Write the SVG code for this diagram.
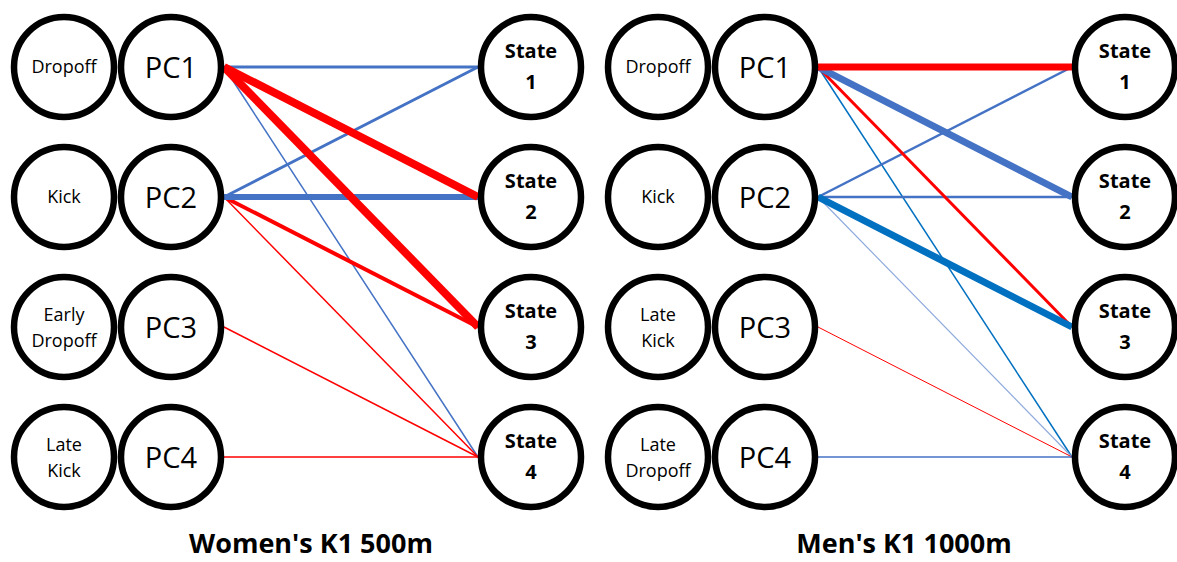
<svg xmlns="http://www.w3.org/2000/svg" width="1177" height="562" viewBox="0 0 1177 562">
<style>
.c{fill:#fff;stroke:#000;stroke-width:6.5}
.lbl{font-family:"Open Sans","Liberation Sans",sans-serif;font-size:18px;fill:#000;text-anchor:middle}
.pc{font-family:"Open Sans","Liberation Sans",sans-serif;font-size:29px;fill:#000;text-anchor:middle}
.st{font-family:"Open Sans","Liberation Sans",sans-serif;font-size:20px;font-weight:bold;fill:#000;text-anchor:middle}
.ttl{font-family:"Open Sans","Liberation Sans",sans-serif;font-size:27px;font-weight:bold;fill:#000;text-anchor:middle}
.r{stroke:#ff0000;fill:none}
.b{stroke:#4472c4;fill:none}
.d{stroke:#0070c0;fill:none}
.lb{stroke:#8faadc;fill:none}
</style>
<rect width="1177" height="562" fill="#fff"/>
<g id="connectors">
<!-- Women's -->
<line class="b" x1="224" y1="67" x2="478" y2="67" stroke-width="3"/>
<line class="b" x1="224" y1="67" x2="478" y2="457" stroke-width="1.5"/>
<line class="b" x1="224" y1="197" x2="478" y2="67" stroke-width="3"/>
<line class="r" x1="224" y1="197" x2="478" y2="327" stroke-width="4"/>
<line class="r" x1="224" y1="197" x2="478" y2="457" stroke-width="1.5"/>
<line class="r" x1="224" y1="327" x2="478" y2="457" stroke-width="1.5"/>
<line class="r" x1="224" y1="457" x2="478" y2="457" stroke-width="1.5"/>
<line class="b" x1="224" y1="197" x2="478" y2="197" stroke-width="6"/>
<line class="r" x1="224" y1="67" x2="478" y2="197" stroke-width="8"/>
<line class="r" x1="224" y1="67" x2="478" y2="327" stroke-width="8"/>
<!-- Men's -->
<line class="d" x1="818" y1="67" x2="1072" y2="457" stroke-width="1.5"/>
<line class="lb" x1="818" y1="197" x2="1072" y2="457" stroke-width="1.2"/>
<line class="r" x1="818" y1="327" x2="1072" y2="457" stroke-width="1"/>
<line class="b" x1="818" y1="457" x2="1072" y2="457" stroke-width="1.5"/>
<line class="b" x1="818" y1="197" x2="1072" y2="67" stroke-width="2.5"/>
<line class="b" x1="818" y1="197" x2="1072" y2="197" stroke-width="2.5"/>
<line class="r" x1="818" y1="67" x2="1072" y2="327" stroke-width="3"/>
<line class="d" x1="818" y1="197" x2="1072" y2="327" stroke-width="7"/>
<line class="b" x1="818" y1="67" x2="1072" y2="197" stroke-width="7"/>
<line class="r" x1="818" y1="67" x2="1072" y2="67" stroke-width="7"/>
</g>
<!-- Women's nodes -->
<g id="w-dropoff"><circle class="c" cx="64" cy="67" r="50"/><text class="lbl" x="64" y="73">Dropoff</text></g>
<g id="w-pc1"><circle class="c" cx="171" cy="67" r="50"/><text class="pc" x="171" y="78">PC1</text></g>
<g id="w-kick"><circle class="c" cx="64" cy="197" r="50"/><text class="lbl" x="64" y="203">Kick</text></g>
<g id="w-pc2"><circle class="c" cx="171" cy="197" r="50"/><text class="pc" x="171" y="208">PC2</text></g>
<g id="w-early"><circle class="c" cx="64" cy="327" r="50"/><text class="lbl" x="64" y="321">Early</text><text class="lbl" x="64" y="347">Dropoff</text></g>
<g id="w-pc3"><circle class="c" cx="171" cy="327" r="50"/><text class="pc" x="171" y="338">PC3</text></g>
<g id="w-latekick"><circle class="c" cx="64" cy="457" r="50"/><text class="lbl" x="64" y="451">Late</text><text class="lbl" x="64" y="477">Kick</text></g>
<g id="w-pc4"><circle class="c" cx="171" cy="457" r="50"/><text class="pc" x="171" y="468">PC4</text></g>
<g id="w-s1"><circle class="c" cx="531" cy="67" r="50"/><text class="st" x="531" y="58">State</text><text class="st" x="531" y="89">1</text></g>
<g id="w-s2"><circle class="c" cx="531" cy="197" r="50"/><text class="st" x="531" y="188">State</text><text class="st" x="531" y="219">2</text></g>
<g id="w-s3"><circle class="c" cx="531" cy="327" r="50"/><text class="st" x="531" y="318">State</text><text class="st" x="531" y="349">3</text></g>
<g id="w-s4"><circle class="c" cx="531" cy="457" r="50"/><text class="st" x="531" y="448">State</text><text class="st" x="531" y="479">4</text></g>
<!-- Men's nodes -->
<g id="m-dropoff"><circle class="c" cx="658" cy="67" r="50"/><text class="lbl" x="658" y="73">Dropoff</text></g>
<g id="m-pc1"><circle class="c" cx="765" cy="67" r="50"/><text class="pc" x="765" y="78">PC1</text></g>
<g id="m-kick"><circle class="c" cx="658" cy="197" r="50"/><text class="lbl" x="658" y="203">Kick</text></g>
<g id="m-pc2"><circle class="c" cx="765" cy="197" r="50"/><text class="pc" x="765" y="208">PC2</text></g>
<g id="m-latekick"><circle class="c" cx="658" cy="327" r="50"/><text class="lbl" x="658" y="321">Late</text><text class="lbl" x="658" y="347">Kick</text></g>
<g id="m-pc3"><circle class="c" cx="765" cy="327" r="50"/><text class="pc" x="765" y="338">PC3</text></g>
<g id="m-latedrop"><circle class="c" cx="658" cy="457" r="50"/><text class="lbl" x="658" y="451">Late</text><text class="lbl" x="658" y="477">Dropoff</text></g>
<g id="m-pc4"><circle class="c" cx="765" cy="457" r="50"/><text class="pc" x="765" y="468">PC4</text></g>
<g id="m-s1"><circle class="c" cx="1125" cy="67" r="50"/><text class="st" x="1125" y="58">State</text><text class="st" x="1125" y="89">1</text></g>
<g id="m-s2"><circle class="c" cx="1125" cy="197" r="50"/><text class="st" x="1125" y="188">State</text><text class="st" x="1125" y="219">2</text></g>
<g id="m-s3"><circle class="c" cx="1125" cy="327" r="50"/><text class="st" x="1125" y="318">State</text><text class="st" x="1125" y="349">3</text></g>
<g id="m-s4"><circle class="c" cx="1125" cy="457" r="50"/><text class="st" x="1125" y="448">State</text><text class="st" x="1125" y="479">4</text></g>
<text class="ttl" x="311" y="553">Women's K1 500m</text>
<text class="ttl" x="904" y="553">Men's K1 1000m</text>
</svg>
